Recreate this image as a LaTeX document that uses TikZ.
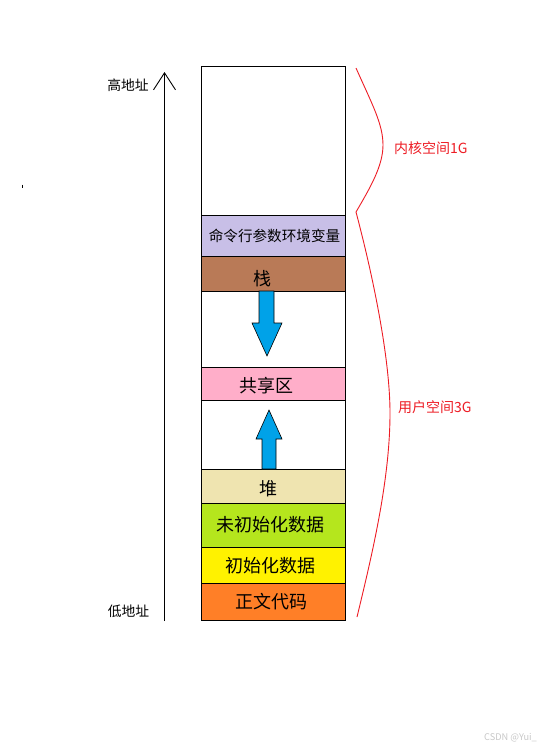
\documentclass[tikz,border=0pt]{standalone}
\usepackage{fontspec}
\setmainfont{Noto Sans CJK SC}
\usetikzlibrary{arrows.meta}
\definecolor{lav}{HTML}{C8BFE7}
\definecolor{brn}{HTML}{B97A57}
\definecolor{pnk}{HTML}{FFAEC9}
\definecolor{heap}{HTML}{EFE4B0}
\definecolor{grn}{HTML}{B5E61D}
\definecolor{ylw}{HTML}{FFF200}
\definecolor{org}{HTML}{FF7F27}
\definecolor{blu}{HTML}{00A2E8}
\definecolor{rd}{HTML}{ED1C24}
\tikzset{
  seg/.style={draw=black, line width=0.9pt, minimum width=144pt, inner sep=0pt, outer sep=0pt, anchor=north},
  lbl/.style={inner sep=0pt, font=\fontsize{18}{18}\selectfont},
  side/.style={inner sep=0pt, font=\fontsize{13.8}{14}\selectfont},
  redtxt/.style={inner sep=0pt, anchor=west, text=rd, font=\fontsize{14}{14}\selectfont},
  blk/.style={draw=black, line width=0.6pt, fill=blu},
  brace/.style={draw=rd, line width=0.9pt}
}
\begin{document}
\begin{tikzpicture}[x=1pt,y=-1pt]
\useasboundingbox (0,0) rectangle (541,750);
% segments
\node[seg, fill=white, minimum height=149pt] (top) at (273,66) {};
\node[seg, fill=lav, minimum height=41pt] (env) at (273,215) {};
\node[seg, fill=brn, minimum height=35pt] (stack) at (273,256) {};
\node[seg, fill=white, minimum height=76pt] (gap1) at (273,291) {};
\node[seg, fill=pnk, minimum height=33pt] (shm) at (273,367) {};
\node[seg, fill=white, minimum height=69pt] (gap2) at (273,400) {};
\node[seg, fill=heap, minimum height=34pt] (heapn) at (273,469) {};
\node[seg, fill=grn, minimum height=44pt] (bss) at (273,503) {};
\node[seg, fill=ylw, minimum height=36pt] (data) at (273,547) {};
\node[seg, fill=org, minimum height=37pt] (text) at (273,583) {};
% texts
\node[inner sep=0pt, font=\fontsize{14.6}{15}\selectfont] (tenv) at (274.5,235.5) {命令行参数环境变量};
\node[lbl] (tstack) at (262,279) {栈};
\node[lbl] (tshm) at (266,386) {共享区};
\node[lbl] (theap) at (268,489) {堆};
\node[lbl] (tbss) at (270,525) {未初始化数据};
\node[lbl] (tdata) at (270,566) {初始化数据};
\node[lbl] (ttext) at (271,602) {正文代码};
% blue arrows
\draw[blk] (259,291) -- (274,291) -- (274,323) -- (282,323) -- (267,356) -- (252,323) -- (259,323) -- cycle;
\draw[blk] (262,469) -- (276,469) -- (276,439) -- (282,439) -- (269,410) -- (256,439) -- (262,439) -- cycle;
% axis
\coordinate (abot) at (164.5,621);
\coordinate (atop) at (164.5,72);
\draw[line width=0.9pt, -{Straight Barb[length=17pt,width=22pt,line width=0.9pt]}] (abot) -- (atop);
\node[side] (hi) at (128,85) {高地址};
\node[side] (lo) at (128.5,611) {低地址};
% red braces
\coordinate (k1) at (356,68);
\coordinate (k2) at (383,145);
\coordinate (k3) at (356,212);
\coordinate (u2) at (390,413);
\coordinate (u3) at (357,617);
\draw[brace] (k1) .. controls (372,104) and (383,124) .. (k2) .. controls (383,166) and (370,188) .. (k3);
\draw[brace] (k3) .. controls (374,280) and (390,360) .. (u2) .. controls (390,480) and (372,555) .. (u3);
\node[redtxt] (kern) at (394,148) {内核空间1G};
\node[redtxt] (user) at (398,407) {用户空间3G};
% stray mark
\draw[line width=1pt] (22,184.5) -- (22,187.5);
% watermark
\node[inner sep=0pt, anchor=east, text=black!22, font=\fontsize{9.2}{10}\selectfont] (wm) at (537,738) {CSDN @Yui\_};
\end{tikzpicture}
\end{document}
